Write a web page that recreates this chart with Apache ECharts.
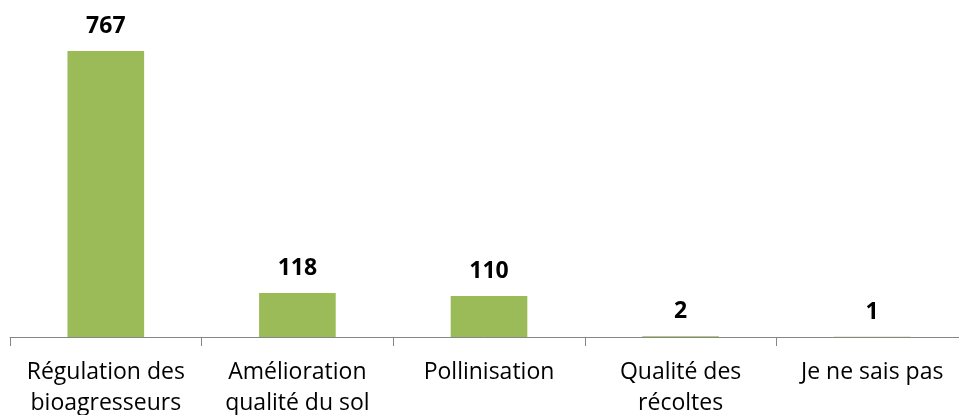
<!DOCTYPE html>
<html>
<head>
<meta charset="utf-8">
<script src="https://cdn.jsdelivr.net/npm/echarts@6/dist/echarts.min.js"></script>
<style>
  html, body { margin: 0; padding: 0; background: #fff; }
  #chart { width: 959px; height: 415px; }
</style>
</head>
<body>
<div id="chart"></div>
<script>
var categories = ['Régulation des\nbioagresseurs', 'Amélioration\nqualité du sol', 'Pollinisation', 'Qualité des\nrécoltes', 'Je ne sais pas'];
var counts = [767, 118, 110, 2, 1];

var myChart = echarts.init(document.getElementById('chart'));
myChart.setOption({
    animation: false,
    grid: { left: 10, width: 958, top: 51, height: 286, outerBoundsMode: 'none' },
    xAxis: {
        type: 'category',
        data: categories,
        axisLine: { lineStyle: { color: '#868686', width: 1 } },
        axisTick: { show: true, length: 9, lineStyle: { color: '#868686' } },
        axisLabel: {
            interval: 0,
            margin: 20,
            color: '#000',
            fontFamily: 'Open Sans',
            fontSize: 23,
            lineHeight: 31
        }
    },
    yAxis: {
        type: 'value',
        min: 0,
        max: 'dataMax',
        show: false,
        splitLine: { show: false }
    },
    series: [{
        name: 'Réponses',
        type: 'bar',
        data: counts,
        barWidth: '40%',
        itemStyle: { color: '#9BBB59' },
        label: {
            show: true,
            position: 'top',
            distance: 13,
            color: '#000',
            fontWeight: 'bold',
            fontFamily: 'Open Sans',
            fontSize: 23
        }
    }]
});
</script>
</body>
</html>
